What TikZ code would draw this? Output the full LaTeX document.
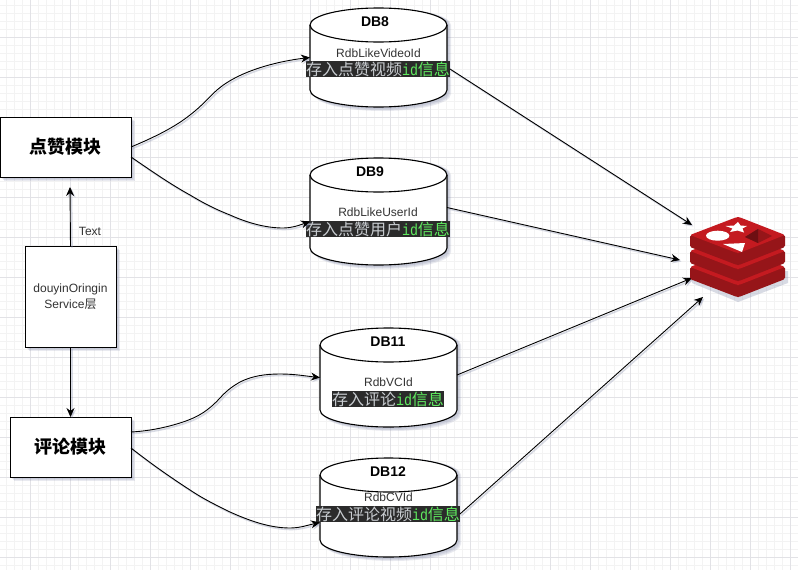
\documentclass[tikz,border=0pt]{standalone}
\usepackage{fontspec}
\setmainfont{Liberation Sans}
\newfontfamily\cjk{Noto Sans CJK SC}
\newfontfamily\mono{Liberation Mono}[FakeStretch=0.83]
\usetikzlibrary{arrows.meta,calc}
\definecolor{gmin}{HTML}{F3F3F3}
\definecolor{gmaj}{HTML}{E2E2E6}
\definecolor{shad}{HTML}{8088A8}
\definecolor{txt}{HTML}{333333}
\definecolor{band}{HTML}{2B2B2B}
\definecolor{bandgrey}{HTML}{C8CCD0}
\definecolor{bandgreen}{HTML}{5FEA5F}
\definecolor{rtop}{HTML}{C41A20}
\definecolor{rside}{HTML}{961519}
\definecolor{rdark}{HTML}{6E0F12}
\tikzset{
  every node/.style={inner sep=0pt,outer sep=0pt},
  flow/.style={draw=black,line width=0.9pt,-{Stealth[length=9pt,width=8pt]},
    preaction={draw=shad,opacity=0.3,line width=1.6pt,transform canvas={shift={(1.5pt,-1.5pt)}}}},
  modbox/.style={draw=black,fill=white,line width=1pt,font=\cjk\fontsize{18}{20}\selectfont\bfseries},
  svcbox/.style={draw=black,fill=white,line width=1pt,align=center,font=\fontsize{12}{16}\selectfont,text=txt},
  cylspace/.style={minimum width=137pt},
  dbtitle/.style={font=\fontsize{14}{16}\selectfont\bfseries},
  dbsub/.style={font=\fontsize{12}{14}\selectfont,text=txt},
  bandlabel/.style={fill=band,text=bandgrey,font=\cjk\fontsize{16}{16}\selectfont,minimum height=16pt},
  lbl/.style={font=\fontsize{12}{14}\selectfont,text=txt}
}
\newcommand{\bandtext}{{\color{bandgreen}{\mono id}信息}}
% name, cx, top, bottom
\newcommand{\cyl}[4]{%
  \node[cylspace,minimum height=#4pt-#3pt,anchor=north] (#1) at (#2,#3) {};
  \foreach \d in {4,3,2}{
    \fill[shad,opacity=0.17] ($(#1.north west)+(\d,17)$) arc[x radius=68.5,y radius=17,start angle=180,end angle=360] -- ($(#1.south east)+(\d,-17+\d)$) arc[x radius=68.5,y radius=17,start angle=0,end angle=180] -- cycle;
  }
  \draw[fill=white,line width=1.1pt] ($(#1.north west)+(0,17)$) arc[x radius=68.5,y radius=17,start angle=180,end angle=360] -- ($(#1.south east)+(0,-17)$) arc[x radius=68.5,y radius=17,start angle=0,end angle=180] -- cycle;
  \draw[line width=1.1pt] ($(#1.north west)+(0,17)$) arc[x radius=68.5,y radius=17,start angle=180,end angle=0];
}
\begin{document}
\begin{tikzpicture}[x=1pt,y=-1pt]
\useasboundingbox (0,0) rectangle (798,570);
\fill[white] (0,0) rectangle (798,570);
% grid
\foreach \k in {-3,...,99}{
  \draw[gmin,line width=0.6pt] ({6+8*\k},0) -- ({6+8*\k},570);
  \draw[gmin,line width=0.6pt] (0,{5+8*\k}) -- (798,{5+8*\k});
}
\foreach \k in {0,...,19}{
  \draw[gmaj,line width=0.7pt] ({30+40*\k},0) -- ({30+40*\k},570);
}
\foreach \k in {0,...,14}{
  \draw[gmaj,line width=0.7pt] (0,{-3+40*\k}) -- (798,{-3+40*\k});
}
\coordinate (logoA) at (692,225);
\coordinate (logoB) at (680,260);
\coordinate (logoC) at (692,278);
\coordinate (logoD) at (703,297);
\cyl{db8}{378.5}{8}{107}
\cyl{db9}{378.5}{158}{265}
\cyl{db11}{388.5}{328}{427}
\cyl{db12}{388.5}{458}{557}
\foreach \x/\y/\w/\h in {0/117/131/60,10/417/121/60,25/246/91/101}{
  \foreach \d in {4,3,2}{\fill[shad,opacity=0.17] (\x+\d,\y+\d) rectangle (\x+\w+\d,\y+\h+\d);}
}
\node[modbox,minimum width=131pt,minimum height=60pt] (m1) at (65.5,147) {点赞模块};
\node[modbox,minimum width=121pt,minimum height=60pt] (m2) at (70.5,447) {评论模块};
\node[svcbox,minimum width=91pt,minimum height=101pt] (svc) at (70.5,296.5) {douyinOringin\\Service{\cjk 层}};
\node[lbl] (t) at (90,231.5) {Text};
\node[dbtitle] (t8) at (375,22) {DB8};
\node[dbtitle] (t9) at (370,172) {DB9};
\node[dbtitle] (t11) at (388,342) {DB11};
\node[dbtitle] (t12) at (388,472) {DB12};
\node[dbsub] (s8) at (378.5,53) {RdbLikeVideoId};
\node[dbsub] (s9) at (378,212.5) {RdbLikeUserId};
\node[dbsub] (s11) at (388.5,382.5) {RdbVCId};
\node[dbsub] (s12) at (388.5,497.5) {RdbCVId};
\node[bandlabel] (b8) at (378,69) {存入点赞视频\bandtext};
\node[bandlabel] (b9) at (378,229) {存入点赞用户\bandtext};
\node[bandlabel] (b11) at (388,399) {存入评论\bandtext};
\node[bandlabel] (b12) at (388,514) {存入评论视频\bandtext};
% connectors
\draw[flow] (svc.north) -- ($(m1.south)+(4.5,10)$);
\draw[flow] (svc.south) -- (m2.north);
\draw[flow] ($(m1.east)$) .. controls (155,137) and (175,127) .. (190,115) .. controls (203,105) and (208,98) .. (217,90) .. controls (240,70) and (280,61) .. (db8.west);
\draw[flow] ($(m1.east)+(0,10)$) .. controls (150,170) and (170,184) .. (190,195) .. controls (205,204) and (215,209) .. (230,215) .. controls (250,224) and (268,228) .. (283,228) .. controls (292,228) and (300,225) .. ($(db9.west)+(0,10)$);
\draw[flow] ($(m2.east)+(0,-15)$) .. controls (150,431) and (168,427) .. (183,422) .. controls (198,417) and (208,411) .. (220,398) .. controls (228,389) and (235,385) .. (240,382) .. controls (252,376) and (265,374) .. (280,374) .. controls (295,374) and (305,376) .. (db11.west);
\draw[flow] ($(m2.east)+(0,1)$) .. controls (150,463) and (170,477) .. (190,490) .. controls (205,500) and (218,506) .. (230,512) .. controls (250,521) and (270,528) .. (290,528) .. controls (300,528) and (308,525) .. ($(db12.west)+(0,15)$);
\draw[flow] (b8.east) -- (logoA);
\draw[flow] ($(db9.east)+(0,-4)$) -- (logoB);
\draw[flow] ($(db11.east)+(0,-2.5)$) -- (logoC);
\draw[flow] (b12.east) -- (logoD);
% logo
\fill[shad,opacity=0.3] (692,271) -- (692,283) -- (738,302) -- (788,283) -- (788,271) -- cycle;
\foreach \o in {32,16,0}{
  \fill[rside,rounded corners=1.5pt] (690,{235+\o}) -- (690,{247+\o}) -- (737,{265+\o}) -- (739,{265+\o}) -- (785,{247+\o}) -- (785,{235+\o}) -- cycle;
  \fill[rtop,rounded corners=2pt] (690,{235+\o}) -- (737,{217+\o}) -- (739,{217+\o}) -- (785,{235+\o}) -- (739,{253+\o}) -- (737,{253+\o}) -- cycle;
}
\fill[white] (717.7,235.7) ellipse[x radius=11.7,y radius=5];
\fill[white] (738,222) -- (740.5,225.5) -- (747,226) -- (742.5,228.5) -- (744,232.5) -- (737.5,230.5) -- (730,232) -- (732.5,228.5) -- (725.5,226) -- (734,225.5) -- cycle;
\fill[white] (723,244) -- (745,243) -- (742,252) -- cycle;
\fill[rside] (745,237) -- (758,229) -- (772,236) -- (758,243) -- cycle;
\fill[rdark] (745,237) -- (758,229) -- (758,243) -- cycle;
\end{tikzpicture}
\end{document}
